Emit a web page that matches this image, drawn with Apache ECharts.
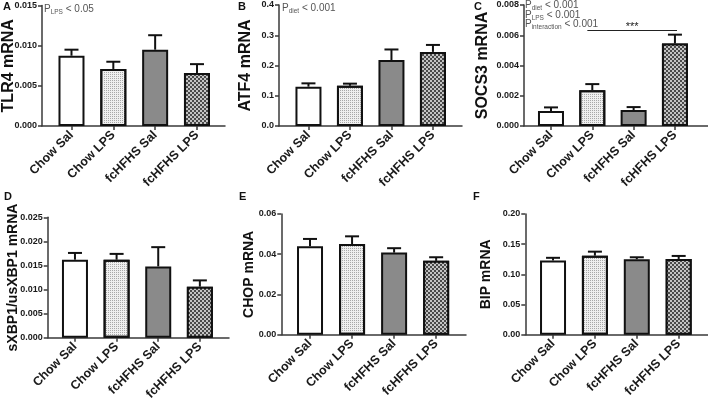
<!DOCTYPE html>
<html><head><meta charset="utf-8">
<script src="https://cdn.jsdelivr.net/npm/echarts@6/dist/echarts.min.js"></script>
<style>html,body{margin:0;padding:0;background:#fff}#c{width:708px;height:400px}</style>
</head><body><div id="c"></div>
<script>
// ---- data ----
const categories = ['Chow Sal', 'Chow LPS', 'fcHFHS Sal', 'fcHFHS LPS'];
const tlr4Mean  = [0.00875, 0.0071, 0.0095, 0.0066];
const tlr4Sem   = [0.00075, 0.0009, 0.0018, 0.0011];
const atf4Mean  = [0.130, 0.133, 0.218, 0.245];
const atf4Sem   = [0.011, 0.007, 0.035, 0.023];
const socs3Mean = [0.00099, 0.00237, 0.00105, 0.00545];
const socs3Sem  = [0.00024, 0.00040, 0.00020, 0.00059];
const xbp1Mean  = [0.0162, 0.0162, 0.0148, 0.0106];
const xbp1Sem   = [0.0014, 0.0012, 0.0040, 0.0013];
const chopMean  = [0.0440, 0.0451, 0.0408, 0.0367];
const chopSem   = [0.0036, 0.0038, 0.0022, 0.0018];
const bipMean   = [0.123, 0.131, 0.125, 0.1255];
const bipSem    = [0.0044, 0.0066, 0.0033, 0.0050];
const socs3Sig  = {from: 0.88, to: 3.05, y: 0.0063, label: '***'};

// ---- panel layout ----
const panels = [
  {letter:'A', title:'TLR4 mRNA', mean:tlr4Mean, sem:tlr4Sem, max:0.015, interval:0.005, dec:3,
   left:42, right:225, top:5.5, bottom:126, xMin:-0.705, xMax:3.67, nameSize:16, nameGap:25},
  {letter:'B', title:'ATF4 mRNA', mean:atf4Mean, sem:atf4Sem, max:0.4, interval:0.1, dec:1,
   left:279, right:462, top:5, bottom:126, xMin:-0.71, xMax:3.70, nameSize:16, nameGap:25},
  {letter:'C', title:'SOCS3 mRNA', mean:socs3Mean, sem:socs3Sem, max:0.008, interval:0.002, dec:3,
   left:524, right:708, top:5, bottom:126, xMin:-0.653, xMax:3.80, nameSize:16, nameGap:33},
  {letter:'D', title:'sXBP1/usXBP1 mRNA', mean:xbp1Mean, sem:xbp1Sem, max:0.025, interval:0.005, dec:3,
   left:47.7, right:229, top:217.3, bottom:337.7, xMin:-0.655, xMax:3.70, nameSize:14, nameGap:28},
  {letter:'E', title:'CHOP mRNA', mean:chopMean, sem:chopSem, max:0.06, interval:0.02, dec:2,
   left:281.3, right:466, top:214, bottom:334.7, xMin:-0.683, xMax:3.71, nameSize:14, nameGap:25},
  {letter:'F', title:'BIP mRNA', mean:bipMean, sem:bipSem, max:0.20, interval:0.05, dec:2,
   left:525.3, right:708, top:214, bottom:334.7, xMin:-0.662, xMax:3.70, nameSize:14, nameGap:32}
];

const letterPos = [[3,1],[238,1],[474,1],[4,191],[239,191],[473,191]];

const barStyles = [
  {color:'#ffffff', borderColor:'#111', borderWidth:2},
  {color:'#efefef', borderColor:'#111', borderWidth:2,
   decal:{symbol:'rect', symbolSize:1, color:'#a8a8a8', dashArrayX:[1,1], dashArrayY:[1,1], rotation:0}},
  {color:'#8a8a8a', borderColor:'#111', borderWidth:2},
  {color:'#4a4a4a', borderColor:'#111', borderWidth:2,
   decal:{symbol:'rect', symbolSize:1, color:'#c4c4c4', dashArrayX:[[2,2],[0,2,2,0]], dashArrayY:[2,0], rotation:0}}
];

const FONT = '"Liberation Sans", Arial, sans-serif';
const NARROW = '"Liberation Sans Narrow", "Arial Narrow", "Liberation Sans", Arial, sans-serif';
const AX = '#3a3a3a';
const ticks = categories.map((c, i) => i);

const grids = [], xAxes = [], yAxes = [], series = [], titles = [];

panels.forEach((p, i) => {
  grids.push({left:p.left, top:p.top, width:p.right - p.left, height:p.bottom - p.top,
              containLabel:false, outerBoundsMode:'none'});
  xAxes.push({gridIndex:i, type:'value', min:p.xMin, max:p.xMax,
    axisLine:{show:true, onZero:false, lineStyle:{color:AX, width:1.5}},
    axisTick:{show:true, customValues:ticks, length:4, lineStyle:{color:AX, width:1.5}},
    axisLabel:{show:true, customValues:ticks, formatter:(v) => categories[Math.round(v)],
      rotate:45, margin:7, fontSize:12.5, fontWeight:'bold', color:'#1a1a1a', fontFamily:FONT},
    splitLine:{show:false}});
  yAxes.push({gridIndex:i, type:'value', min:0, max:p.max, interval:p.interval,
    name:p.title, nameLocation:'middle', nameRotate:90, nameGap:p.nameGap, nameMoveOverlap:false,
    nameTextStyle:{fontSize:p.nameSize, fontWeight:'bold', color:'#111', fontFamily:NARROW},
    axisLine:{show:true, onZero:false, lineStyle:{color:AX, width:1.5}},
    axisTick:{show:true, length:4, lineStyle:{color:AX, width:1.5}},
    axisLabel:{formatter:(v) => v.toFixed(p.dec), fontSize:9, fontWeight:'bold', color:'#1a1a1a',
      margin:5, fontFamily:FONT},
    splitLine:{show:false}});
  const bar = {type:'bar', xAxisIndex:i, yAxisIndex:i, barWidth:26, z:2,
    data:p.mean.map((v, j) => ({value:[j, v], itemStyle:barStyles[j]}))};
  if (p.letter === 'C') {
    bar.markLine = {symbol:'none', silent:true, animation:false,
      lineStyle:{color:'#222', width:1.2, type:'solid'},
      label:{show:true, position:'middle', formatter:socs3Sig.label, fontSize:11, color:'#222',
        distance:-2, fontFamily:FONT},
      data:[[{coord:[socs3Sig.from, socs3Sig.y]}, {coord:[socs3Sig.to, socs3Sig.y]}]]};
  }
  series.push(bar);
  series.push({type:'custom', xAxisIndex:i, yAxisIndex:i, z:3,
    data:p.mean.map((v, j) => [j, v, p.sem[j]]),
    encode:{x:0, y:1},
    renderItem:(params, api) => {
      const x = api.value(0), m = api.value(1), s = api.value(2);
      const a = api.coord([x, m]), b = api.coord([x, m + s]);
      return {type:'group', children:[
        {type:'line', shape:{x1:a[0], y1:a[1], x2:b[0], y2:b[1]}, style:{stroke:'#111', lineWidth:2}},
        {type:'line', shape:{x1:b[0]-7, y1:b[1], x2:b[0]+7, y2:b[1]}, style:{stroke:'#111', lineWidth:2}}
      ]};
    }});
  titles.push({text:p.letter, left:letterPos[i][0], top:letterPos[i][1], padding:0,
    textStyle:{fontSize:11, fontWeight:'bold', color:'#111', fontFamily:FONT}});
});

const rich = {
  p:{fontSize:10, fontWeight:'normal', color:'#555', fontFamily:FONT},
  s:{fontSize:6.5, fontWeight:'normal', color:'#555', fontFamily:FONT, padding:[6,0,0,0]}
};
const pText = (sub, val) => `{p|P}{s|${sub}}{p| < ${val}}`;
const pStyle = {fontWeight:'normal', rich};
titles.push({text:pText('LPS', '0.05'), left:44, top:3, padding:0, textStyle:pStyle});
titles.push({text:pText('diet', '0.001'), left:282, top:2, padding:0, textStyle:pStyle});
titles.push({text:pText('diet', '0.001'), left:525, top:-1, padding:0, textStyle:pStyle});
titles.push({text:pText('LPS', '0.001'), left:525, top:8.5, padding:0, textStyle:pStyle});
titles.push({text:pText('interaction', '0.001'), left:525, top:18, padding:0, textStyle:pStyle});

const chart = echarts.init(document.getElementById('c'), null, {renderer:'canvas'});
chart.setOption({animation:false, backgroundColor:'#fff', title:titles,
  grid:grids, xAxis:xAxes, yAxis:yAxes, series:series});
</script></body></html>
